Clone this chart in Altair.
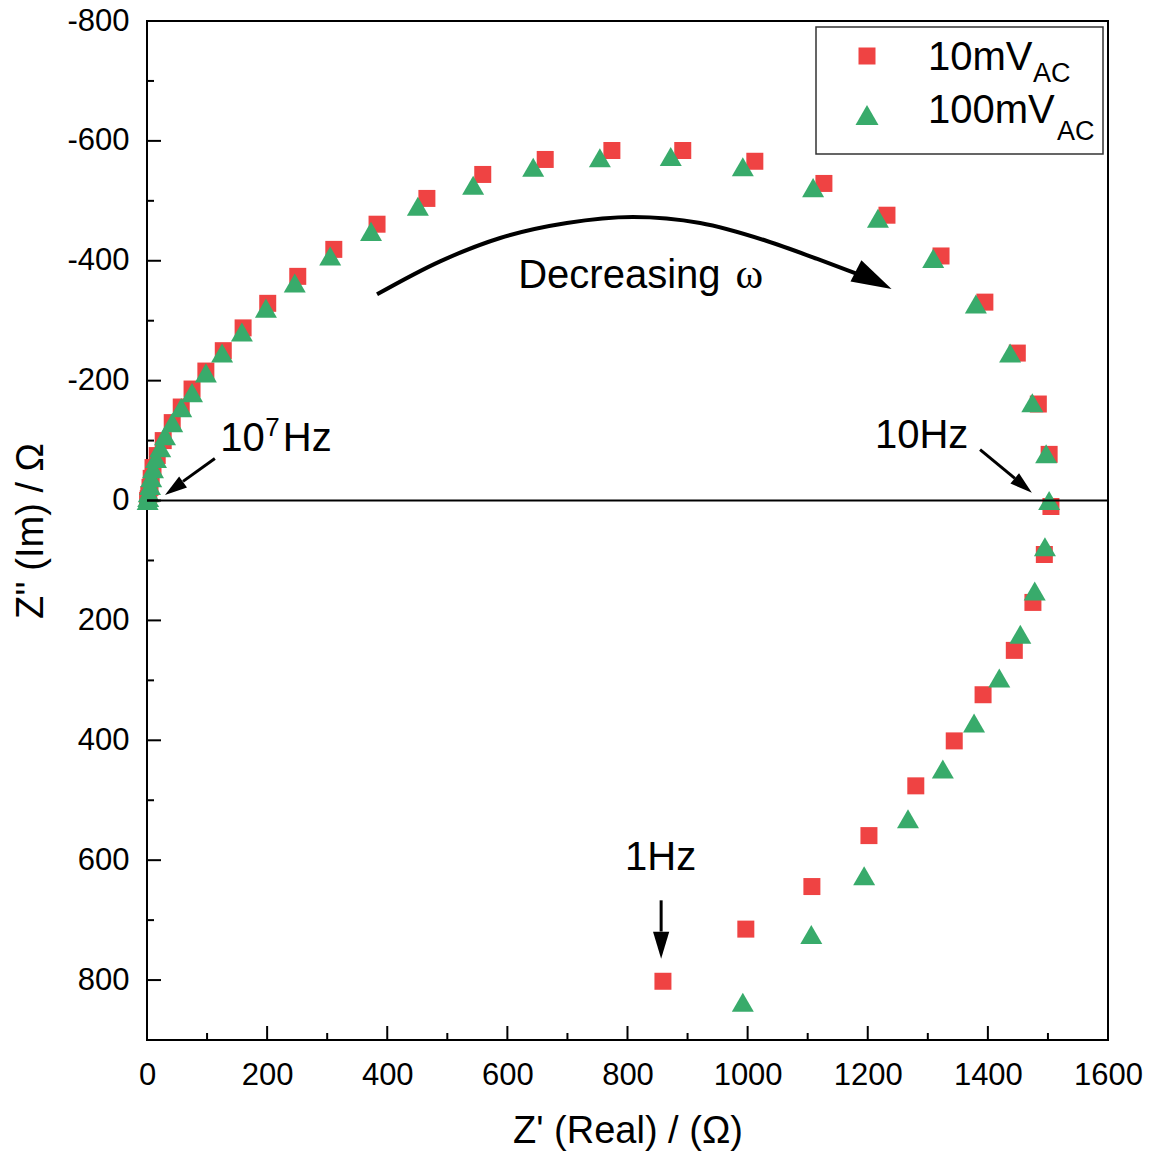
import altair as alt
import pandas as pd

# ---------------- data ----------------
series_names = ["10mV", "100mV"]

# 10 mV AC (red squares), high frequency -> low frequency
z_re_10 = [1, 2, 3, 5, 7, 10, 17, 27, 42, 57, 75, 98, 127, 160, 201, 251, 311, 383,
           466, 559, 663, 774, 892, 1012, 1127, 1232, 1322, 1395, 1449, 1484, 1502,
           1505, 1494, 1475, 1444, 1392, 1344, 1280, 1202, 1107, 997, 859]
z_im_10 = [0, -3, -10, -22, -37, -55, -75, -100, -130, -156, -186, -216, -250, -288,
           -329, -374, -419, -461, -504, -544, -569, -584, -584, -566, -529, -476,
           -408, -331, -246, -161, -77, 10, 90, 170, 250, 324, 401, 476, 559, 644,
           715, 802]

# 100 mV AC (green triangles)
z_re_100 = [1, 2, 3, 5, 7, 10, 15, 22, 30, 42, 57, 75, 98, 125, 158, 198, 246, 305,
            373, 451, 543, 643, 754, 872, 992, 1109, 1217, 1309, 1380, 1437, 1474,
            1497, 1502, 1495, 1478, 1454, 1419, 1377, 1325, 1267, 1194, 1106, 992]
z_im_100 = [0, -5, -13, -25, -38, -53, -70, -88, -108, -130, -155, -180, -213, -246,
            -281, -321, -363, -408, -449, -491, -526, -556, -572, -574, -557, -522,
            -471, -404, -328, -246, -163, -78, 0, 77, 151, 223, 296, 371, 448, 531,
            626, 724, 837]

x_major = list(range(0, 1601, 200))
x_minor = list(range(100, 1600, 200))
y_major = list(range(-800, 801, 200))
y_minor = list(range(-700, 901, 200))

# annotation arrows (data units)
curve_x = [383, 488, 588, 699, 809, 921, 1032, 1116, 1180]
curve_y = [-344, -399, -438, -463, -473, -463, -433, -403, -379]
straight_id = ["a", "a", "b", "b", "c", "c"]
straight_x = [113, 60, 1387, 1445, 856, 856]
straight_y = [-70, -32, -85, -37, 667, 719]
head_x = [1210, 45, 1459, 856]
head_y = [-368, -20, -25, 742]
head_ang = [27, 144, 40, 90]
head_size = [1600, 500, 500, 729]

# ---------------- build ----------------
W, H = 961, 1019
RED = "#EF4343"
GREEN = "#38AB6B"
FONT = "Liberation Sans"
XT = "Z' (Real) / (Ω)"
YT = "Z'' (Im) / Ω"

xs = alt.Scale(domain=[0, 1600], nice=False, zero=False)
ys = alt.Scale(domain=[-800, 900], nice=False, zero=False, reverse=True)
lbl = "'' + datum.value"

xaxis = alt.Axis(values=x_major, labelExpr=lbl, domain=False, ticks=False, grid=False,
                 labelFont=FONT, labelFontSize=31, labelColor="black", labelPadding=20,
                 labelFlush=False, titleFont=FONT, titleFontSize=38, titleFontWeight="normal",
                 titleColor="black", titlePadding=22)
yaxis = alt.Axis(values=y_major, labelExpr=lbl, domain=False, ticks=False, grid=False,
                 labelFont=FONT, labelFontSize=31, labelColor="black", labelPadding=18,
                 labelFlush=False, titleFont=FONT, titleFontSize=38, titleFontWeight="normal",
                 titleColor="black", titlePadding=16)


def X(f):
    return alt.X(f, scale=xs, axis=xaxis, title=XT)


def Y(f):
    return alt.Y(f, scale=ys, axis=yaxis, title=YT)


def XD(v):
    return alt.XDatum(v, scale=xs, axis=xaxis, title=XT)


def YD(v):
    return alt.YDatum(v, scale=ys, axis=yaxis, title=YT)


df = pd.concat([
    pd.DataFrame({"series": series_names[0], "x": z_re_10, "y": z_im_10, "o": 0}),
    pd.DataFrame({"series": series_names[1], "x": z_re_100, "y": z_im_100, "o": 1}),
], ignore_index=True)

points = alt.Chart(df).mark_point(filled=True, opacity=1, strokeWidth=0).encode(
    x=X("x:Q"), y=Y("y:Q"),
    color=alt.Color("series:N", scale=alt.Scale(domain=series_names, range=[RED, GREEN]), legend=None),
    shape=alt.Shape("series:N", scale=alt.Scale(domain=series_names, range=["square", "triangle-up"]), legend=None),
    size=alt.Size("series:N", scale=alt.Scale(domain=series_names, range=[289, 484]), legend=None),
    order=alt.Order("o:Q"),
)

one = pd.DataFrame({"k": [0]})

zero_line = alt.Chart(one).mark_rule(color="black", strokeWidth=2).encode(y=YD(0))


def xticks(vals, L):
    return alt.Chart(pd.DataFrame({"v": vals})).mark_rule(color="black", strokeWidth=2).encode(
        x=X("v:Q"), y=alt.value(H - L), y2=alt.value(H))


def yticks(vals, L):
    return alt.Chart(pd.DataFrame({"v": vals})).mark_rule(color="black", strokeWidth=2).encode(
        y=Y("v:Q"), x=alt.value(0), x2=alt.value(L))


curve = alt.Chart(pd.DataFrame({"x": curve_x, "y": curve_y, "i": range(len(curve_x))})).mark_line(
    color="black", strokeWidth=4, interpolate="monotone").encode(
    x=X("x:Q"), y=Y("y:Q"), order="i:Q")

straight = alt.Chart(pd.DataFrame({"id": straight_id, "x": straight_x, "y": straight_y,
                                   "i": range(len(straight_x))})).mark_line(
    color="black", strokeWidth=3).encode(
    x=X("x:Q"), y=Y("y:Q"), detail="id:N", order="i:Q")

heads = alt.Chart(pd.DataFrame({"x": head_x, "y": head_y, "a": head_ang, "s": head_size})).mark_point(
    shape="M1,0L-1,-0.6L-1,0.6Z", filled=True, opacity=1, color="black", strokeWidth=0).encode(
    x=X("x:Q"), y=Y("y:Q"),
    angle=alt.Angle("a:Q", scale=None), size=alt.Size("s:Q", scale=None))


def dtext(txt, x, y, fs, font=FONT):
    return alt.Chart(one).mark_text(text=txt, align="left", baseline="alphabetic", font=font,
                                    fontSize=fs, color="black").encode(x=XD(x), y=YD(y))


def ptext(txt, px, py, fs, font=FONT):
    return alt.Chart(one).mark_text(text=txt, align="left", baseline="alphabetic", font=font,
                                    fontSize=fs, color="black").encode(
        x=alt.value(px), y=alt.value(py))


annots = [
    dtext("Decreasing", 618, -354, 40),
    dtext("ω", 980, -354, 42, "Liberation Serif"),
    dtext("10", 122, -83, 40),
    dtext("7", 197, -108, 26),
    dtext("Hz", 226, -83, 40),
    dtext("10Hz", 1212, -88, 40),
    dtext("1Hz", 796, 616, 40),
]

legend_box = alt.Chart(one).mark_rect(fill="white", stroke="#333333", strokeWidth=1.5).encode(
    x=alt.value(669), x2=alt.value(956), y=alt.value(6), y2=alt.value(133))
leg_sq = alt.Chart(one).mark_point(shape="square", filled=True, opacity=1, color=RED, size=289,
                                   strokeWidth=0).encode(x=alt.value(720), y=alt.value(35))
leg_tri = alt.Chart(one).mark_point(shape="triangle-up", filled=True, opacity=1, color=GREEN, size=529,
                                    strokeWidth=0).encode(x=alt.value(720), y=alt.value(94))
leg_texts = [
    ptext("10mV", 781, 49, 40),
    ptext("AC", 886, 61, 27),
    ptext("100mV", 781, 102, 40),
    ptext("AC", 910, 119, 27),
]

chart = alt.layer(
    points, zero_line,
    xticks(x_major, 14), xticks(x_minor, 7), yticks(y_major, 14), yticks(y_minor, 7),
    curve, straight, heads, *annots,
    legend_box, leg_sq, leg_tri, *leg_texts,
).properties(
    width=W, height=H,
    padding={"left": 139, "top": 13, "right": 36, "bottom": 112},
    autosize=alt.AutoSizeParams(type="none"),
).configure_view(stroke="black", strokeWidth=2)

chart.save("out.html", embed_options={"renderer": "svg", "actions": False})
